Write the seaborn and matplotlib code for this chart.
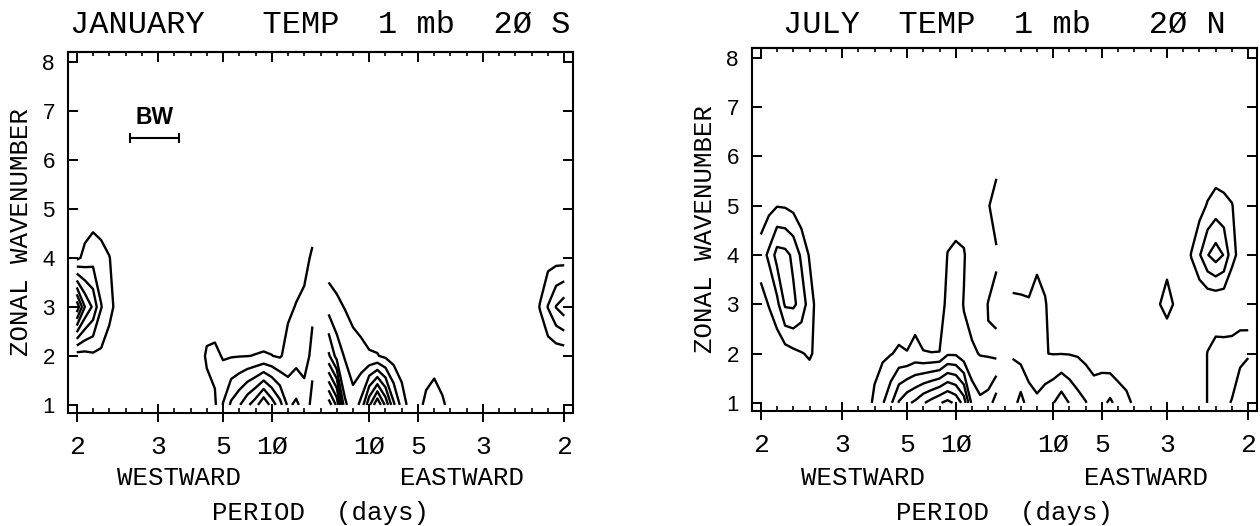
import numpy as np
import matplotlib
matplotlib.use("Agg")
import matplotlib.pyplot as plt
import seaborn as sns

# ---------------------------------------------------------------------------
# Data: normalised spectral power of 1 mb temperature, rows = zonal wavenumber
# 1..8, columns = frequency harmonics 1..30 of a 60-day record.
# Westward grids run from the 2-day end (harmonic 30) toward zero frequency,
# eastward grids from zero frequency (harmonic 1) out to the 2-day end.
# ---------------------------------------------------------------------------
wavenumbers = [1, 2, 3, 4, 5, 6, 7, 8]
harmonics = np.arange(1, 31)
record_days = 60
tick_periods = [2, 3, 5, 10]
contour_levels = [1, 2, 3, 4, 5, 6, 7, 8, 9]

jan_westward = [
    [0, 0, 0, 0, 0, 0, 0, 0, 0, 0, 0, 0, 0, 0, 0, 0.1, 0.4, 0.85, 2.05, 3.2, 3.9, 4.8, 5.6, 6.9, 5.6, 4.4, 2.8, 3.2, 2.6, 1.7],
    [0.45, 0.6, 0.8, 0.8, 0.5, 0.2, 0, 0, 0, 0, 0, 0, 0, 0, 0, 0.3, 1.2, 1.3, 0.9, 0.93, 0.96, 0.98, 1.03, 1.08, 1.02, 0.88, 1.4, 1.6, 1.5, 2.3],
    [7.8, 5.0, 3.8, 2.05, 1.3, 0.7, 0.2, 0, 0, 0, 0, 0, 0, 0, 0, 0, 0.2, 0.2, 0.2, 0.2, 0.2, 0.2, 0.2, 0.2, 0.2, 0.3, 0.8, 1.05, 1.3, 1.8],
    [0.75, 1.3, 1.6, 1.4, 1.05, 0.4, 0, 0, 0, 0, 0, 0, 0, 0, 0, 0, 0, 0, 0, 0, 0, 0, 0, 0, 0, 0, 0, 0.5, 0.6, 1.2],
    [0, 0.3, 0.45, 0.3, 0, 0, 0, 0, 0, 0, 0, 0, 0, 0, 0, 0, 0, 0, 0, 0, 0, 0, 0, 0, 0, 0, 0, 0, 0, 0.3],
    [0] * 30,
    [0] * 30,
    [0] * 30,
]

jan_eastward = [
    [9.6, 7.8, 3.2, 2.4, 3.3, 5.8, 7.9, 5.8, 3.2, 1.6, 0.6, 0.6, 1.3, 1.7, 1.2, 0.6, 0.2, 0, 0, 0, 0, 0, 0, 0, 0, 0, 0, 0, 0, 0],
    [4.2, 2.6, 1.9, 1.42, 1.3, 1.1, 1.05, 0.8, 0.5, 0.3, 0.1, 0.1, 0.3, 0.4, 0.2, 0, 0, 0, 0, 0, 0, 0, 0, 0, 0, 0, 0.2, 0.3, 0.3, 0.3],
    [1.6, 1.25, 0.95, 0.7, 0.5, 0.3, 0.2, 0.1, 0, 0, 0, 0, 0, 0, 0, 0, 0, 0, 0, 0, 0, 0, 0, 0, 0, 0.3, 1.05, 2.05, 3.05, 3.6],
    [0.4, 0.3, 0.2, 0, 0, 0, 0, 0, 0, 0, 0, 0, 0, 0, 0, 0, 0, 0, 0, 0, 0, 0, 0, 0, 0, 0, 0.4, 0.6, 0.6, 0.54],
    [0] * 30,
    [0] * 30,
    [0] * 30,
    [0] * 30,
]

jul_westward = [
    [0, 0, 0, 0, 0, 0, 0.3, 0.1, 0, 0, 0, 0, 0, 0.4, 1.3, 1.9, 2.8, 4.1, 4.8, 5.2, 5.9, 6.4, 6.9, 7.3, 6.8, 5.6, 2.7, 2.2, 2.4, 3.6],
    [0.1, 0.2, 0.3, 0.5, 0.75, 0.95, 1.1, 0.8, 0.2, 0, 0, 0, 0, 0.1, 0.5, 0.8, 0.95, 1.15, 1.05, 1.3, 1.05, 1.02, 1.03, 1.85, 1.85, 1.3, 1.15, 0.95, 0.9, 0.7],
    [0.6, 1.05, 1.7, 3.15, 3.2, 2.6, 1.5, 0.6, 0.1, 0, 0, 0, 0, 0, 0, 0, 0.2, 0.3, 0.2, 0.5, 0.3, 0.3, 0.3, 1.4, 1.5, 0.95, 0.6, 0.4, 1.05, 1.3],
    [1.5, 2.2, 3.4, 3.3, 2.8, 1.8, 0.9, 0.2, 0, 0, 0, 0, 0, 0, 0, 0, 0, 0, 0, 0, 0, 0, 0, 1.05, 1.2, 1.1, 0.3, 0, 0.3, 0.85],
    [0.3, 0.7, 0.95, 0.9, 0.7, 0.3, 0.1, 0, 0, 0, 0, 0, 0, 0, 0, 0, 0, 0, 0, 0, 0, 0, 0, 0.3, 0.5, 0.4, 0, 0, 0.9, 1.6],
    [0, 0, 0, 0, 0, 0, 0, 0, 0, 0, 0, 0, 0, 0, 0, 0, 0, 0, 0, 0, 0, 0, 0, 0, 0, 0, 0, 0, 0.3, 0.5],
    [0] * 30,
    [0] * 30,
]

jul_eastward = [
    [2.5, 3.4, 2.5, 2.2, 2.6, 2.95, 3.6, 2.95, 2.4, 2.05, 1.5, 1.7, 2.2, 1.6, 1.3, 0.8, 0.3, 0, 0, 0, 0, 0, 0, 0.3, 1.05, 1.5, 1.8, 2.05, 2.5, 3.0],
    [1.94, 1.6, 1.3, 1.15, 1.02, 0.97, 0.98, 0.96, 0.9, 0.7, 0.6, 0.55, 0.2, 0.2, 0.1, 0, 0, 0, 0.2, 0.26, 0.2, 0, 0, 0.3, 1.05, 1.5, 1.45, 1.5, 1.8, 1.9],
    [1.15, 1.1, 1.05, 1.3, 1.1, 0.4, 0.2, 0, 0, 0, 0, 0, 0, 0, 0, 0, 0, 0, 0.95, 1.3, 0.9, 0.2, 0.2, 0.1, 0.1, 0.05, 0.1, 0.1, 0.1, 0],
    [0.5, 0.6, 0.7, 0.8, 0.5, 0, 0, 0, 0, 0, 0, 0, 0, 0, 0, 0, 0, 0, 0.3, 0.7, 0.3, 0.4, 1.05, 1.9, 2.95, 3.5, 2.95, 1.3, 0.7, 0.3],
    [0, 0, 0, 0, 0, 0, 0, 0, 0, 0, 0, 0, 0, 0, 0, 0, 0, 0, 0, 0, 0, 0, 0.3, 0.6, 1.1, 1.45, 1.25, 1.05, 0.4, 0.1],
    [0, 0, 0, 0, 0, 0, 0, 0, 0, 0, 0, 0, 0, 0, 0, 0, 0, 0, 0, 0, 0, 0, 0, 0, 0.1, 0.2, 0.3, 0.2, 0, 0],
    [0] * 30,
    [0] * 30,
]

# Resolution bandwidth marker (cycles/day) shown on the January panel
bandwidth = 0.1
bandwidth_centre = -0.34
bandwidth_wavenumber = 6.45

panels = [
    {"title": "JANUARY   TEMP  1 mb  2\u00d8 S", "west": jan_westward, "east": jan_eastward,
     "rect_px": (68, 52, 573, 413), "bandwidth": True},
    {"title": "JULY  TEMP  1 mb   2\u00d8 N", "west": jul_westward, "east": jul_eastward,
     "rect_px": (752, 48, 1257, 411), "bandwidth": False},
]

# ---------------------------------------------------------------------------
sns.set_theme(style="white")
MONO = ["Liberation Mono", "DejaVu Sans Mono"]
SANS = ["Liberation Sans", "DejaVu Sans"]
plt.rcParams["font.family"] = MONO
plt.rcParams["axes.edgecolor"] = "black"
plt.rcParams["xtick.color"] = "black"
plt.rcParams["ytick.color"] = "black"
plt.rcParams["text.color"] = "black"

W, H = 1260, 526
fig = plt.figure(figsize=(W / 100, H / 100), dpi=100)
fig.patch.set_facecolor("white")

freq_east = harmonics / record_days
freq_west = -harmonics[::-1] / record_days


def period_label(p):
    return str(p).replace("0", "\u00d8")


major_pos = [-1 / p for p in tick_periods] + [1 / p for p in tick_periods[::-1]]
major_lab = [period_label(p) for p in tick_periods] + [period_label(p) for p in tick_periods[::-1]]
minor_pos = np.arange(-15, 16) / 30

for panel in panels:
    x0, y0, x1, y1 = panel["rect_px"]
    ax = fig.add_axes([x0 / W, 1 - y1 / H, (x1 - x0) / W, (y1 - y0) / H])
    ax.set_facecolor("white")

    ax.contour(freq_west, wavenumbers, np.array(panel["west"]), levels=contour_levels,
               colors="black", linewidths=1.7)
    ax.contour(freq_east, wavenumbers, np.array(panel["east"]), levels=contour_levels,
               colors="black", linewidths=1.7)

    ax.set_xlim(-0.518, 0.518)
    ax.set_ylim(0.835, 8.2)

    for s in ax.spines.values():
        s.set_visible(True)
        s.set_color("black")
        s.set_linewidth(1.5)

    ax.set_xticks(major_pos)
    ax.set_xticklabels(major_lab)
    ax.set_xticks(minor_pos, minor=True)
    ax.tick_params(axis="x", which="major", bottom=True, top=False, direction="inout",
                   length=13, width=1.4, pad=9, labelsize=19)
    ax.tick_params(axis="x", which="minor", bottom=True, top=False, direction="in",
                   length=3.6, width=1.2)

    ax.set_yticks(wavenumbers)
    ax.set_yticklabels([str(w) for w in wavenumbers])
    ax.tick_params(axis="y", which="major", left=True, right=True, direction="in",
                   length=7.2, width=1.4, pad=9.5, labelsize=16)
    for lbl in ax.get_yticklabels():
        lbl.set_fontfamily(SANS)
    for lbl in ax.get_xticklabels():
        lbl.set_fontfamily(MONO)

    top = ax.secondary_xaxis("top")
    top.set_xticks(major_pos)
    top.set_xticks(minor_pos, minor=True)
    top.tick_params(axis="x", which="major", direction="in", length=7.2, width=1.4, labeltop=False)
    top.tick_params(axis="x", which="minor", direction="in", length=3, width=1.2, labeltop=False)
    top.spines["top"].set_linewidth(1.5)

    height_px = y1 - y0
    # title above the frame
    ax.text(0.5, 1 + (y0 - 33) / height_px, panel["title"], transform=ax.transAxes,
            ha="center", va="baseline", fontsize=23, fontfamily=MONO)
    # direction labels and axis title below
    xt = ax.get_xaxis_transform()
    ax.text(-0.29, (y1 - 485) / height_px, "WESTWARD", transform=xt, ha="center",
            va="baseline", fontsize=18.5, fontfamily=MONO)
    ax.text(0.29, (y1 - 485) / height_px, "EASTWARD", transform=xt, ha="center",
            va="baseline", fontsize=18.5, fontfamily=MONO)
    ax.text(0.0, (y1 - 520) / height_px, "PERIOD  (days)", transform=xt, ha="center",
            va="baseline", fontsize=18.5, fontfamily=MONO)
    # vertical axis title
    fig.text((x0 - 47) / W, 1 - (y0 + y1) / 2 / H, "ZONAL WAVENUMBER", rotation=90,
             ha="center", va="center", fontsize=18.5, fontfamily=MONO)

    if panel["bandwidth"]:
        ax.errorbar(bandwidth_centre, bandwidth_wavenumber, xerr=bandwidth / 2, fmt="none",
                    ecolor="black", elinewidth=1.5, capsize=3.3, capthick=1.5)
        ax.text(bandwidth_centre, bandwidth_wavenumber + 0.28, "BW", ha="center",
                va="baseline", fontsize=16.5, fontweight="bold", fontfamily=SANS)

fig.savefig("out.png", dpi=100, facecolor="white")
